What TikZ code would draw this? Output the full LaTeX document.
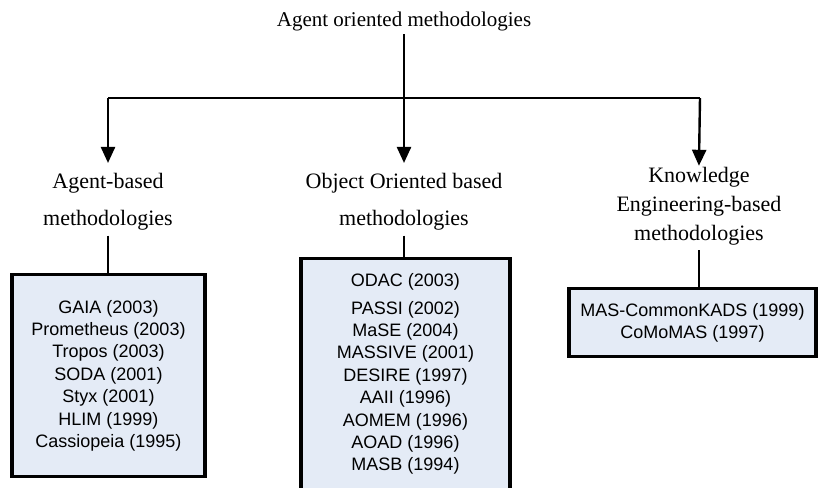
\documentclass[tikz,border=0pt]{standalone}
\usepackage{fontspec}
\setmainfont{Liberation Serif}
\newfontfamily\listfont{Liberation Sans}
\usetikzlibrary{arrows.meta, positioning}
\definecolor{mBoxBlue}{HTML}{E4EBF6}

\begin{document}
\begin{tikzpicture}[x=0.75pt, y=-0.75pt,
      >={Triangle[length=12pt, width=10.5pt]}, line width=1.8pt,
      head/.style={inner sep=2pt, font=\fontsize{15.75}{18}\selectfont},
      cat/.style={align=center, inner sep=3pt, font=\fontsize{16.5}{27.75}\selectfont},
      listbox/.style={draw, line width=2.4pt, fill=mBoxBlue, align=center,
                      anchor=north, font=\listfont\fontsize{13.5}{16.8}\selectfont}]
    \useasboundingbox (0,0) rectangle (818,487);
    % title and branches
    \node[head] (root) at (404,21) {Agent oriented methodologies};
    \coordinate (hub) at (404,98);
    \coordinate (jA) at (108,98);
    \coordinate (jK) at (700,98);
    \node[cat] (agent) at (108,202) {Agent-based\\methodologies};
    \node[cat] (oo) at (404,202) {Object Oriented based\\methodologies};
    \node[cat, font=\fontsize{16.5}{21.75}\selectfont] (ke) at (699,206)
      {Knowledge\\Engineering-based\\methodologies};
    % lists
    \node[listbox, minimum width=144.75pt, minimum height=151.5pt] (abox) at (108.5,273)
      {GAIA (2003)\\Prometheus (2003)\\Tropos (2003)\\SODA (2001)\\Styx (2001)\\HLIM (1999)\\Cassiopeia (1995)};
    \node[listbox, minimum width=156.75pt, inner ysep=11pt, text depth=165pt] (oobox) at (405.5,257)
      {ODAC (2003)\\[4pt]PASSI (2002)\\MaSE (2004)\\MASSIVE (2001)\\DESIRE (1997)\\AAII (1996)\\AOMEM (1996)\\AOAD (1996)\\MASB (1994)};
    \node[listbox, minimum width=185.25pt, minimum height=51pt] (kebox) at (692.5,287)
      {MAS-CommonKADS (1999)\\CoMoMAS (1997)};
    % connectors
    \draw (root) -- (hub);
    \draw (jA) -- (jK);
    \draw[->, shorten >=4pt] (jA) -- (agent.north);
    \draw[->, shorten >=4pt] (hub) -- (oo.north);
    \draw[->, shorten >=-3pt] (jK) -- (ke.north);
    \draw[line width=2pt] (agent) -- (agent |- abox.north);
    \draw[line width=2pt] (oo) -- (oo |- oobox.north);
    \draw[line width=2pt] (ke) -- (ke |- kebox.north);
  \end{tikzpicture}
\end{document}
